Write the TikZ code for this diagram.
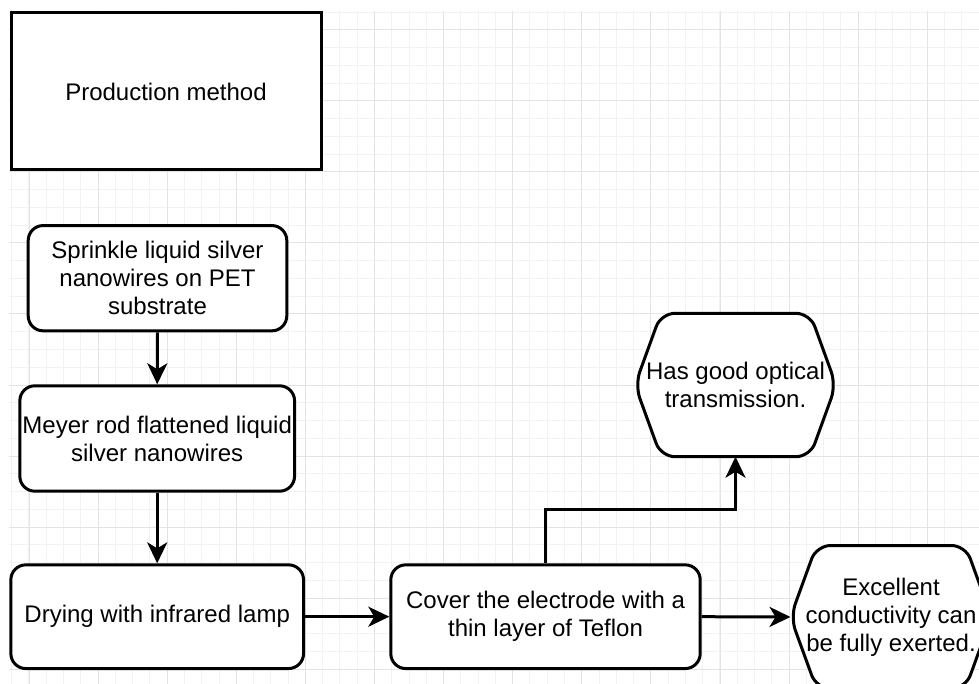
\documentclass[tikz,border=0pt]{standalone}
\usepackage{fontspec}
\setmainfont{Liberation Sans}
\usetikzlibrary{arrows.meta,calc}

\definecolor{gridminor}{HTML}{F2F2F2}
\definecolor{gridmajor}{HTML}{E3E3E3}

\pgfdeclarelayer{gridlayer}
\pgfdeclarelayer{background}
\pgfsetlayers{gridlayer,background,main}

\tikzset{
  every node/.style={font=\fontsize{24}{28}\selectfont, align=center, inner sep=0pt},
  plainbox/.style={draw, line width=3pt, fill=white},
  stepbox/.style={plainbox, rounded corners=15pt},
  hexbox/.style={outer sep=1.5pt},
  hexline/.style={draw, line width=3pt, fill=white, rounded corners=14pt},
  arr/.style={line width=3pt, -{Stealth[length=21pt,width=20pt,inset=6pt]}},
}

% hexagon outline drawn behind the text of a node
\newcommand\hexoutline[1]{%
  \begin{pgfonlayer}{background}
    \path[hexline] (#1.west) -- ($(#1.north west)+(26,0)$) -- ($(#1.north east)+(-26,0)$)
      -- (#1.east) -- ($(#1.south east)+(-26,0)$) -- ($(#1.south west)+(26,0)$) -- cycle;
  \end{pgfonlayer}}

\begin{document}
\begin{tikzpicture}[x=1pt,y=-1pt]
\useasboundingbox (0,0) rectangle (979,684);

% canvas grid
\begin{pgfonlayer}{gridlayer}
  \fill[white] (0,0) rectangle (979,684);
  \foreach \i in {0,...,56}
    \draw[gridminor, line width=1pt] ({11.7+17.275*\i},11) -- ({11.7+17.275*\i},684);
  \foreach \j in {0,...,37}
    \draw[gridminor, line width=1pt] (9,{12.25+17.75*\j}) -- (979,{12.25+17.75*\j});
  \foreach \k in {0,...,13}
    \draw[gridmajor, line width=1pt] ({29+69.1*\k},11) -- ({29+69.1*\k},684);
  \foreach \k in {0,...,9}
    \draw[gridmajor, line width=1pt] (9,{30+71*\k}) -- (979,{30+71*\k});
\end{pgfonlayer}

% title box
\node[plainbox, minimum width=310, minimum height=157] (prod) at (166,91.5) {Production method};

% process steps
\node[stepbox, minimum width=258.6, minimum height=105.3] (spr) at (157.5,278.2)
  {Sprinkle liquid silver\\nanowires on PET\\substrate};
\node[stepbox, minimum width=274.7, minimum height=105.4] (mey) at (157.2,438.5)
  {Meyer rod flattened liquid\\silver nanowires};
\node[stepbox, minimum width=292.7, minimum height=103.7] (dry) at (157.2,616.7)
  {Drying with infrared lamp};
\node[stepbox, minimum width=309.4, minimum height=103.7] (cov) at (545.5,616.7)
  {Cover the electrode with a\\thin layer of Teflon};

% results
\node[hexbox, minimum width=198, minimum height=140.4] (opt) at (735.5,385)
  {Has good optical\\transmission.};
\hexoutline{opt}
\node[hexbox, minimum width=198, minimum height=140] (cond) at (891,617)
  {Excellent\\conductivity can\\be fully exerted.};
\hexoutline{cond}

% connectors
\draw[arr] (spr.south) -- (mey.north);
\draw[arr] (mey.south) -- (dry.north);
\draw[arr] (dry.east) -- (cov.west);
\draw[arr] (cov.north) -- ++(0,-54) -| (opt.south);
\draw[arr] (cov.east) -- (cond.west);
\end{tikzpicture}
\end{document}
